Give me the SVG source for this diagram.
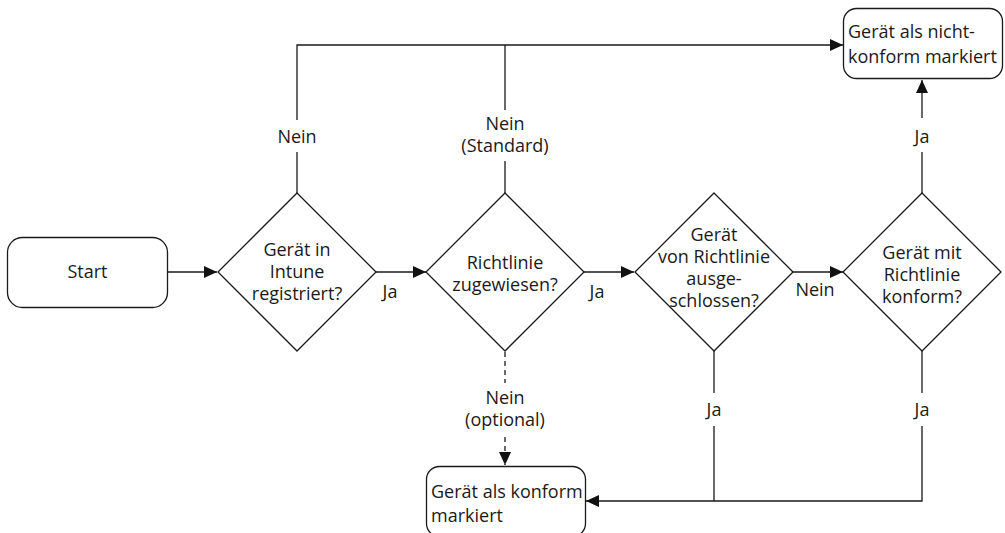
<svg xmlns="http://www.w3.org/2000/svg" width="1005" height="533" viewBox="0 0 1005 533">
<style>
.shape{fill:#fff;stroke:#1a1a1a;stroke-width:1.3}
.ln{fill:none;stroke:#1a1a1a;stroke-width:1.3}
.dash{stroke-dasharray:5 4}
text{font-family:"Open Sans","Noto Sans",sans-serif;font-size:18px;fill:#1a1a1a}
.c{text-anchor:middle}
</style>
<defs>
<marker id="ah" markerUnits="userSpaceOnUse" markerWidth="14" markerHeight="12" refX="13" refY="6" orient="auto">
<path d="M0,0 L13,6 L0,12 Z" fill="#111"/>
</marker>
</defs>
<g id="start">
<rect class="shape" x="7.5" y="237.5" width="160" height="70" rx="15"/>
<text class="c" x="87.5" y="278">Start</text>
</g>
<g id="d1">
<polygon class="shape" points="297,193 376,272 297,351 218,272"/>
<text class="c" x="297" y="256">Gerät in</text>
<text class="c" x="297" y="278">Intune</text>
<text class="c" x="297" y="300">registriert?</text>
</g>
<g id="d2">
<polygon class="shape" points="505,193 584,272 505,351 426,272"/>
<text class="c" x="505" y="269">Richtlinie</text>
<text class="c" x="505" y="291">zugewiesen?</text>
</g>
<g id="d3">
<polygon class="shape" points="714,193 793,272 714,351 635,272"/>
<text class="c" x="714" y="241">Gerät</text>
<text class="c" x="714" y="263">von Richtlinie</text>
<text class="c" x="714" y="285">ausge-</text>
<text class="c" x="714" y="307">schlossen?</text>
</g>
<g id="d4">
<polygon class="shape" points="922,193 1001,272 922,351 843,272"/>
<text class="c" x="922" y="259">Gerät mit</text>
<text class="c" x="922" y="281">Richtlinie</text>
<text class="c" x="922" y="303">konform?</text>
</g>
<g id="noncompliant">
<rect class="shape" x="843.5" y="8.5" width="159" height="70" rx="13"/>
<text x="848" y="38">Gerät als nicht-</text>
<text x="848" y="63">konform markiert</text>
</g>
<g id="compliant">
<rect class="shape" x="426.5" y="466.5" width="159" height="70" rx="13"/>
<text x="431" y="498">Gerät als konform</text>
<text x="431" y="522">markiert</text>
</g>
<g id="connectors">
<line class="ln" x1="168" y1="272" x2="217" y2="272" marker-end="url(#ah)"/>
<line class="ln" x1="376" y1="272" x2="426" y2="272" marker-end="url(#ah)"/>
<line class="ln" x1="584" y1="272" x2="634" y2="272" marker-end="url(#ah)"/>
<line class="ln" x1="793" y1="272" x2="843" y2="272" marker-end="url(#ah)"/>
<line class="ln" x1="297" y1="193" x2="297" y2="152"/>
<path class="ln" d="M297,120 V45 H843" marker-end="url(#ah)"/>
<line class="ln" x1="505" y1="193" x2="505" y2="161"/>
<line class="ln" x1="505" y1="110" x2="505" y2="45"/>
<line class="ln" x1="922" y1="193" x2="922" y2="152"/>
<line class="ln" x1="922" y1="118" x2="922" y2="80" marker-end="url(#ah)"/>
<line class="ln dash" x1="505" y1="352" x2="505" y2="383"/>
<line class="ln dash" x1="505" y1="437" x2="505" y2="465" marker-end="url(#ah)"/>
<line class="ln" x1="714" y1="351" x2="714" y2="393"/>
<line class="ln" x1="714" y1="426" x2="714" y2="501"/>
<line class="ln" x1="922" y1="351" x2="922" y2="393"/>
<path class="ln" d="M922,426 V501 H586" marker-end="url(#ah)"/>
<text class="c" x="297" y="143">Nein</text>
<text class="c" x="505" y="130">Nein</text>
<text class="c" x="505" y="152">(Standard)</text>
<text class="c" x="390" y="298">Ja</text>
<text class="c" x="597" y="298">Ja</text>
<text class="c" x="815" y="296">Nein</text>
<text class="c" x="922" y="143">Ja</text>
<text class="c" x="505" y="404">Nein</text>
<text class="c" x="505" y="426">(optional)</text>
<text class="c" x="714" y="416">Ja</text>
<text class="c" x="922" y="416">Ja</text>
</g>
</svg>
